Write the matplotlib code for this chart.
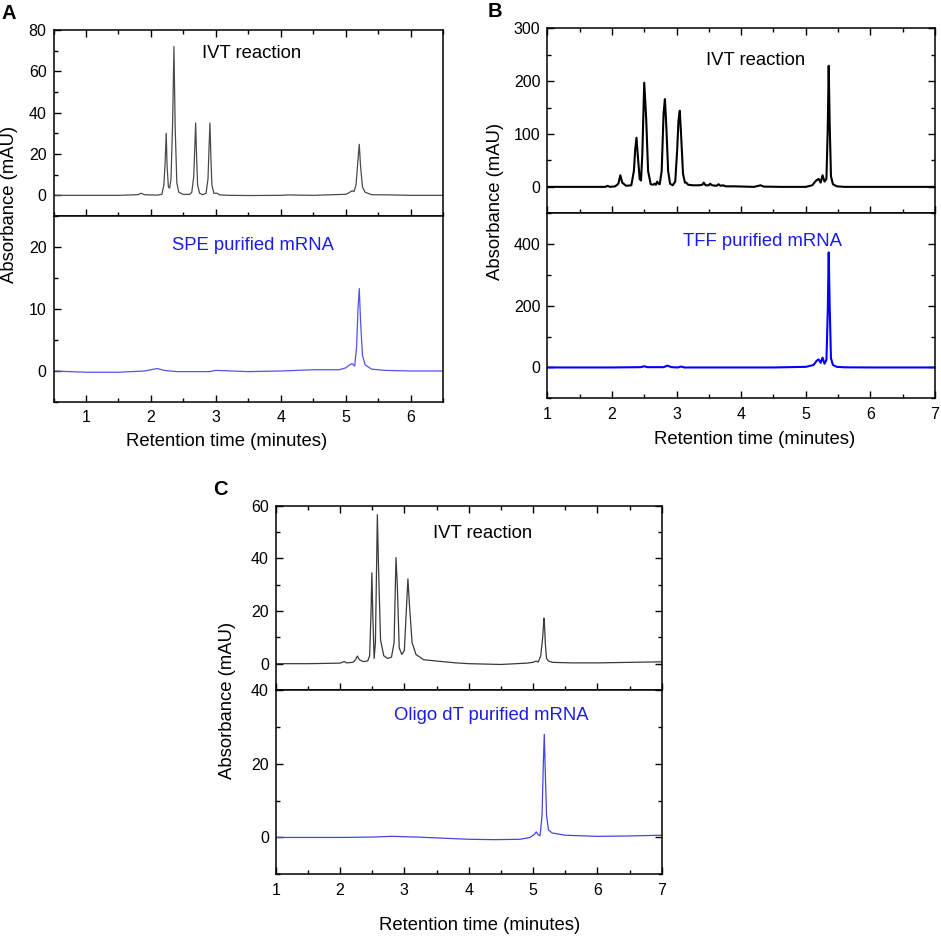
import matplotlib
matplotlib.use("Agg")
import matplotlib.pyplot as plt
from matplotlib.ticker import MultipleLocator

plt.rcParams['font.family'] = ['Liberation Sans', 'DejaVu Sans']

# ---------------- Data ----------------
# Panel A
a_ivt_t = [0.5, 1.0, 1.5, 1.8, 1.85, 1.9, 2.1, 2.17, 2.2, 2.22, 2.236, 2.25, 2.27, 2.29, 2.31,
           2.335, 2.355, 2.375, 2.40, 2.43, 2.50, 2.60, 2.63, 2.66, 2.675, 2.69, 2.705, 2.72,
           2.75, 2.80, 2.85, 2.88, 2.895, 2.91, 2.925, 2.94, 2.97, 3.02, 3.06, 3.2, 3.5, 4.0,
           4.1, 4.5, 5.0, 5.05, 5.1, 5.13, 5.16, 5.19, 5.21, 5.23, 5.26, 5.3, 5.4, 5.7, 6.0, 6.5]
a_ivt_v = [0, 0, 0, 0.3, 1.0, 0.3, 0.1, 0.5, 5, 16, 30, 14, 4, 3.5, 8,
           35, 72, 32, 6, 1.5, 0.4, 0.5, 1.5, 9, 22, 35, 18, 5,
           1, 0.3, 1, 8, 22, 35, 18, 5, 1, 1, 0.2, 0, -0.1, 0,
           0.2, 0, 0.5, 1.2, 2.2, 1.8, 5, 17, 24.7, 14, 4, 1.5, 0.3, 0.2, 0, 0]
a_pur_t = [0.5, 1.0, 1.5, 1.9, 2.0, 2.1, 2.2, 2.4, 2.9, 3.0, 3.5, 4.0, 4.5, 4.9, 5.0, 5.05,
           5.1, 5.14, 5.17, 5.19, 5.21, 5.23, 5.26, 5.3, 5.4, 5.6, 6.0, 6.5]
a_pur_v = [0, -0.2, -0.2, 0, 0.2, 0.4, 0.1, -0.1, -0.1, 0.1, -0.1, 0.0, 0.2, 0.2, 0.5, 0.9,
           1.2, 0.8, 4, 10, 13.3, 8, 2.5, 1.0, 0.3, 0.1, 0, 0]

# Panel B
b_ivt_t = [1.0, 1.5, 1.9, 1.93, 1.97, 2.05, 2.1, 2.13, 2.16, 2.22, 2.30, 2.34, 2.36, 2.38, 2.40,
           2.43, 2.45, 2.47, 2.50, 2.53, 2.56, 2.60, 2.64, 2.66, 2.68, 2.70, 2.72, 2.74, 2.77,
           2.80, 2.82, 2.84, 2.87, 2.90, 2.94, 2.98, 3.01, 3.03, 3.05, 3.07, 3.10, 3.13, 3.15,
           3.18, 3.25, 3.35, 3.40, 3.42, 3.45, 3.50, 3.52, 3.55, 3.62, 3.65, 3.68, 3.72, 3.76,
           3.9, 4.2, 4.3, 4.35, 4.6, 5.0, 5.1, 5.16, 5.2, 5.23, 5.26, 5.29, 5.32, 5.34, 5.355,
           5.37, 5.39, 5.42, 5.48, 5.6, 6.0, 7.0]
b_ivt_v = [0, 0, 0, 2, 0, 1, 6, 22, 8, 2, 3, 30, 70, 93, 60,
           15, 12, 60, 197, 130, 30, 5, 4, 6, 4, 10, 6, 5, 30,
           140, 166, 120, 30, 6, 3, 10, 70, 125, 144, 100, 25, 8, 8,
           4, 3, 3, 4, 8, 3, 3, 6, 3, 2, 5, 2, 3, 1,
           1, 0, 3, 0.5, 0, 0, 3, 12, 15, 8, 22, 10, 15, 110, 229,
           120, 20, 5, 1, 0, 0, 0]
b_pur_t = [1.0, 2.0, 2.45, 2.5, 2.55, 2.8, 2.86, 2.92, 3.02, 3.07, 3.12, 3.5, 4.5, 5.0, 5.12,
           5.17, 5.2, 5.23, 5.26, 5.29, 5.32, 5.34, 5.355, 5.37, 5.39, 5.42, 5.48, 5.6, 6.0, 7.0]
b_pur_v = [0, 0, 1, 4, 1, 1, 6, 1, 0, 3, 0, 0, 0, 2, 8,
           22, 26, 15, 32, 12, 25, 180, 373, 200, 30, 8, 2, 0.5, 0, 0]

# Panel C
c_ivt_t = [1.0, 1.5, 2.0, 2.04, 2.07, 2.1, 2.2, 2.24, 2.27, 2.30, 2.36, 2.43, 2.46, 2.48, 2.495,
           2.51, 2.53, 2.55, 2.57, 2.58, 2.60, 2.63, 2.68, 2.74, 2.80, 2.84, 2.87, 2.89, 2.92,
           2.96, 3.00, 3.03, 3.055, 3.08, 3.12, 3.18, 3.3, 3.5, 3.8, 4.0, 4.5, 4.9, 5.0, 5.05,
           5.08, 5.12, 5.15, 5.17, 5.18, 5.19, 5.21, 5.24, 5.3, 5.6, 6.0, 6.5, 7.0]
c_ivt_v = [0, 0, 0.2, 0.6, 0.8, 0.3, 0.5, 1.5, 2.9, 1.5, 0.8, 1.0, 3, 18, 34.5,
           18, 2.0, 8, 40, 56.6, 35, 9, 3, 2, 2.5, 8, 40.3, 30, 6,
           3.5, 5, 20, 32.2, 22, 8, 3.5, 1.5, 1.0, 0.3, 0.0, -0.3, 0.2, 0.5, 1.0,
           0.6, 3, 10, 17.3, 14, 8, 2, 1.0, 0.5, 0.3, 0.3, 0.5, 0.7]
c_pur_t = [1.0, 1.5, 2.0, 2.5, 2.8, 3.2, 3.6, 4.0, 4.4, 4.8, 4.95, 5.02, 5.05, 5.08, 5.11,
           5.14, 5.16, 5.175, 5.19, 5.21, 5.24, 5.3, 5.5, 6.0, 6.5, 7.0]
c_pur_v = [0, 0, 0, 0.1, 0.3, 0.1, -0.2, -0.5, -0.6, -0.5, 0, 0.8, 1.5, 0.7, 0.5,
           6, 20, 28, 18, 6, 2, 1.2, 0.6, 0.3, 0.4, 0.6]

top_label = "IVT reaction"
pur_labels = ["SPE purified mRNA", "TFF purified mRNA", "Oligo dT purified mRNA"]
panel_letters = ["A", "B", "C"]
xlabel = "Retention time (minutes)"
ylabel = "Absorbance (mAU)"

# ---------------- Figure ----------------
W, H = 941, 938
fig = plt.figure(figsize=(W / 100, H / 100), dpi=100)

def ax_px(left, right, top, bottom):
    return fig.add_axes([left / W, 1 - bottom / H, (right - left) / W, (bottom - top) / H])

BLUE_TXT = "#1c1ce8"
TICK_FS = 11.5
LAB_FS = 13.3

def style(ax, xlim, ylim, ymaj, ymin, right_ticks, top_ticks, bottom_labels):
    ax.set_xlim(*xlim)
    ax.set_ylim(*ylim)
    ax.xaxis.set_major_locator(MultipleLocator(1))
    ax.xaxis.set_minor_locator(MultipleLocator(0.5))
    ax.yaxis.set_major_locator(MultipleLocator(ymaj))
    ax.yaxis.set_minor_locator(MultipleLocator(ymin))
    ax.tick_params(which='both', direction='in', top=top_ticks, right=right_ticks,
                   bottom=True, left=True, labelsize=TICK_FS, width=1.0, pad=5)
    ax.tick_params(which='major', length=5)
    ax.tick_params(which='minor', length=3)
    ax.tick_params(axis='x', labelbottom=bottom_labels, pad=6)
    for s in ax.spines.values():
        s.set_linewidth(1.1)

panels = [
    dict(box=(53.5, 443, 30, 216, 402), xlim=(0.5, 6.5),
         top=(a_ivt_t, a_ivt_v, (-10, 80), 20, 10, "#4a4a4a", 0.9),
         bot=(a_pur_t, a_pur_v, (-5, 25), 10, 5, "#5252ee", 0.9),
         top_txt=(3.55, 68.4), bot_txt=(3.58, 20.3), right=False,
         ylab=(10, 204), xlab=(227, 441), letter=(2, 4)),
    dict(box=(547.3, 935, 28.3, 213.3, 398.3), xlim=(1, 7),
         top=(b_ivt_t, b_ivt_v, (-50, 300), 100, 50, "#000000", 1.5),
         bot=(b_pur_t, b_pur_v, (-100, 500), 200, 100, "#0000ff", 1.5),
         top_txt=(4.22, 240), bot_txt=(4.33, 410), right=True,
         ylab=(496, 201), xlab=(755, 439), letter=(488, 2)),
    dict(box=(275.7, 661.7, 505.7, 690, 874.3), xlim=(1, 7),
         top=(c_ivt_t, c_ivt_v, (-10, 60), 20, 10, "#3a3a3a", 0.9),
         bot=(c_pur_t, c_pur_v, (-10, 40), 20, 10, "#4545e6", 0.9),
         top_txt=(4.21, 49.5), bot_txt=(4.35, 33), right=True,
         ylab=(228, 700), xlab=(480, 925), letter=(213, 480)),
]

for i, p in enumerate(panels):
    l, r, t, m, b = p['box']
    axt = ax_px(l, r, t, m)
    axb = ax_px(l, r, m, b)
    tt, tv, tyl, tmaj, tmin, tcol, tlw = p['top']
    bt, bv, byl, bmaj, bmin, bcol, blw = p['bot']
    axt.plot(tt, tv, color=tcol, lw=tlw)
    axb.plot(bt, bv, color=bcol, lw=blw)
    style(axt, p['xlim'], tyl, tmaj, tmin, p['right'], True, False)
    style(axb, p['xlim'], byl, bmaj, bmin, p['right'], False, True)
    # hide the lowest (negative) tick labels
    axt.set_yticks([v for v in axt.get_yticks() if tyl[0] < v <= tyl[1]])
    axb.set_yticks([v for v in axb.get_yticks() if byl[0] < v <= byl[1]])
    if i != 2:
        axb.set_yticks([v for v in axb.get_yticks() if v < byl[1]])
    axt.set_ylim(*tyl)
    axb.set_ylim(*byl)
    axt.text(*p['top_txt'], top_label, ha='center', va='center', fontsize=LAB_FS, color='black')
    axb.text(*p['bot_txt'], pur_labels[i], ha='center', va='center', fontsize=LAB_FS, color=BLUE_TXT)
    fig.text(p['ylab'][0] / W, 1 - p['ylab'][1] / H, ylabel, rotation=90,
             ha='center', va='center', fontsize=LAB_FS)
    fig.text(p['xlab'][0] / W, 1 - p['xlab'][1] / H, xlabel,
             ha='center', va='center', fontsize=LAB_FS)
    fig.text(p['letter'][0] / W, 1 - p['letter'][1] / H, panel_letters[i],
             ha='left', va='top', fontsize=14.5, fontweight='bold')

fig.savefig("out.png", dpi=100)
